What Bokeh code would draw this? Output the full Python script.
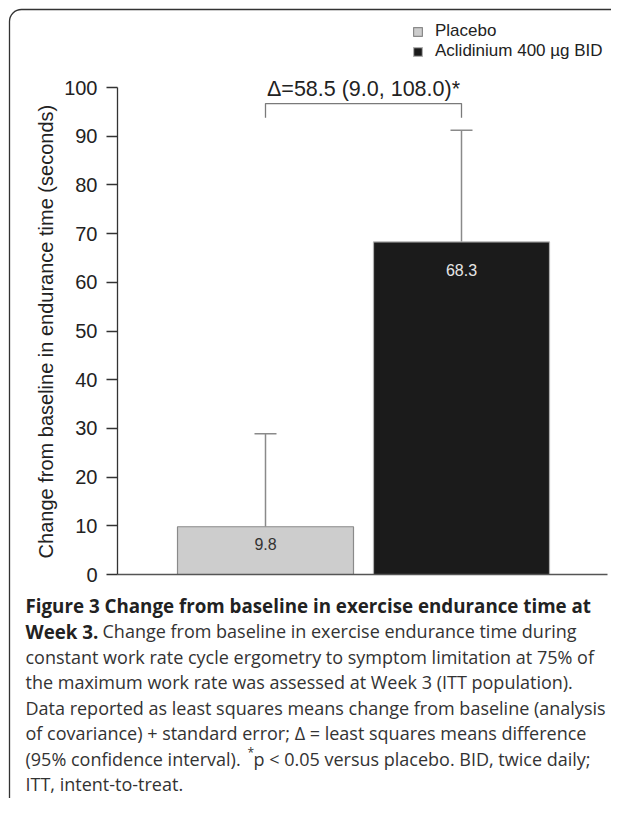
import math
from bokeh.plotting import figure
from bokeh.layouts import column, row
from bokeh.models import (ColumnDataSource, FixedTicker, Label, Legend, LegendItem,
                          Whisker, TeeHead, Range1d)
from bokeh.embed import file_html
from bokeh.resources import INLINE
from bokeh.core.properties import value

# ---------------- data ----------------
groups = ["Placebo", "Aclidinium 400 \u00b5g BID"]
positions = [1, 2]
means = [9.8, 68.3]
std_err = [19.1, 22.9]
value_labels = ["9.8", "68.3"]
bar_colors = ["#cdcdcd", "#1b1b1b"]
bar_edges = ["#8a8a8a", "#b0b0b0"]
label_colors = ["#333333", "#e6e6e6"]
y_ticks = [0, 10, 20, 30, 40, 50, 60, 70, 80, 90, 100]
delta_text = "\u0394=58.5 (9.0, 108.0)*"
delta_level = 99.6
bracket_top = 96.7
bracket_bottom = 93.8
y_title = "Change from baseline in endurance time (seconds)"

caption_bold_1 = "Figure 3 Change from baseline in exercise endurance time at"
caption_bold_2 = "Week 3."
caption_rest_2 = "Change from baseline in exercise endurance time during"
caption_lines = [
    "constant work rate cycle ergometry to symptom limitation at 75% of",
    "the maximum work rate was assessed at Week 3 (ITT population).",
    "Data reported as least squares means change from baseline (analysis",
    "of covariance) + standard error; \u0394 = least squares means difference",
]
caption_7a = "(95% confidence interval)."
caption_7star = "*"
caption_7b = "p < 0.05 versus placebo. BID, twice daily;"
caption_8 = "ITT, intent-to-treat."

# ---------------- layout constants ----------------
W, H = 611, 798
HA = 586            # height of the chart part
WL = 58             # width of the strip holding the y title
HB = H - HA         # caption part
frame_left = 117    # x of the y axis
frame_bottom = 574  # y of the zero line
px_per_x = 196.0
y_end = (frame_bottom - 18) / 4.87

x0 = positions[0] - (265 - frame_left) / px_per_x
x1 = x0 + (W - frame_left) / px_per_x
x_axis_end = x0 + (607 - frame_left) / px_per_x

# ---------------- y title strip ----------------
pl = figure(width=WL, height=HA, output_backend="svg", toolbar_location=None,
            x_range=Range1d(0, WL), y_range=Range1d(HA, 0),
            x_axis_location=None, y_axis_location=None, min_border=0)
pl.outline_line_color = None
pl.grid.visible = False
pl.background_fill_color = None
pl.border_fill_color = None
pl.text(x=[45], y=[330], text=[y_title], angle=math.pi / 2,
        text_align="center", text_baseline="middle",
        text_font=value("Liberation Sans"), text_font_size="20px",
        text_color="#222222")

# ---------------- chart ----------------
p = figure(width=W - WL, height=HA, output_backend="svg", toolbar_location=None,
           x_range=Range1d(x0, x1), y_range=Range1d(0, y_end),
           min_border_left=frame_left - WL, min_border_right=0, min_border_top=18,
           min_border_bottom=HA - frame_bottom)
p.background_fill_color = None
p.border_fill_color = None
p.outline_line_color = None
p.grid.visible = False

src = ColumnDataSource(dict(x=positions, top=means,
                            upper=[m + s for m, s in zip(means, std_err)],
                            color=bar_colors, edge=bar_edges, name=groups))

bars = p.vbar(x="x", top="top", bottom=0, width=176 / px_per_x, source=src,
              fill_color="color", line_color="edge", line_width=1.2)

p.add_layout(Whisker(source=src, base="x", lower="top", upper="upper",
                     line_color="#8a8a8a", line_width=1.5,
                     upper_head=TeeHead(size=22, line_color="#8a8a8a", line_width=1.5),
                     lower_head=None))

p.line(x=[positions[0], positions[0], positions[1], positions[1]],
       y=[bracket_bottom, bracket_top, bracket_top, bracket_bottom],
       line_color="#7a7a7a", line_width=1.3)

p.add_layout(Label(x=sum(positions) / 2, y=delta_level, text=delta_text,
                   text_align="center", text_baseline="middle",
                   text_font="Liberation Sans", text_font_size="21.5px",
                   text_color="#222222"))

offsets = [-17, -28]
for xp, m, lab, col, off in zip(positions, means, value_labels, label_colors, offsets):
    p.add_layout(Label(x=xp, y=m, y_offset=off, text=lab, text_align="center",
                       text_baseline="middle", text_font="Liberation Sans",
                       text_font_size="16px", text_color=col))

ya = p.yaxis[0]
ya.ticker = FixedTicker(ticks=y_ticks)
ya.bounds = (0, 100)
ya.major_label_text_font = "Liberation Sans"
ya.major_label_text_font_size = "20px"
ya.major_label_text_color = "#222222"
ya.major_label_standoff = 9
ya.major_tick_out = 11
ya.major_tick_in = 0
ya.minor_tick_line_color = None
ya.axis_line_color = "#333333"
ya.axis_line_width = 1.3
ya.major_tick_line_color = "#333333"
ya.major_tick_line_width = 1.3

xa = p.xaxis[0]
xa.ticker = FixedTicker(ticks=[])
xa.bounds = (x0, x_axis_end)
xa.major_tick_line_color = None
xa.minor_tick_line_color = None
xa.major_label_text_font_size = "0px"
xa.axis_line_color = "#555555"
xa.axis_line_width = 1.3

legend = Legend(items=[LegendItem(label=groups[0], renderers=[bars], index=0),
                       LegendItem(label=groups[1], renderers=[bars], index=1)],
                location=(412 - frame_left, frame_bottom - 61), orientation="vertical",
                glyph_width=11, glyph_height=11, label_height=19,
                label_standoff=12, spacing=0, padding=0, margin=0,
                label_text_font="Liberation Sans", label_text_font_size="17px",
                label_text_color="#222222", border_line_color=None,
                background_fill_alpha=0)
p.add_layout(legend)

# ---------------- caption ----------------
pc = figure(width=W, height=HB, output_backend="svg", toolbar_location=None,
            x_range=Range1d(0, W), y_range=Range1d(HB, 0),
            x_axis_location=None, y_axis_location=None, min_border=0)
pc.outline_line_color = None
pc.grid.visible = False
pc.background_fill_color = None
pc.border_fill_color = None

lh = 25.5
y1 = 605 - HA


def cap(text, x, y, bold=False, size="18px", color="#333333"):
    pc.text(x=[x], y=[y], text=[text], text_align="left", text_baseline="middle",
            text_font=value("Open Sans"), text_font_size=size,
            text_font_style="bold" if bold else "normal", text_color=color)


cap(caption_bold_1, 25, y1, bold=True, size="18.75px", color="#222222")
cap(caption_bold_2, 25, y1 + lh, bold=True, size="18.75px", color="#222222")
cap(caption_rest_2, 102, y1 + lh)
for i, t in enumerate(caption_lines):
    cap(t, 25, y1 + lh * (2 + i))
cap(caption_7a, 25, y1 + lh * 6)
cap(caption_7star, 247, y1 + lh * 6 - 6, size="12px")
cap(caption_7b, 253, y1 + lh * 6)
cap(caption_8, 25, y1 + lh * 7)

# ---------------- rounded frame (page background) ----------------
svg = ("<svg xmlns='http://www.w3.org/2000/svg' width='611' height='798'>"
       "<path d='M9.5 860 L9.5 21.5 A12 12 0 0 1 21.5 9.5 L614 9.5 A12 12 0 0 1 626 21.5 L626 860' "
       "fill='none' stroke='%23333333' stroke-width='1.3'/></svg>")
layout = column(row(pl, p), pc,
                styles={"background-image": f'url("data:image/svg+xml;utf8,{svg}")',
                        "background-repeat": "no-repeat",
                        "background-color": "white"})

open("out.html", "w").write(file_html(layout, INLINE))
